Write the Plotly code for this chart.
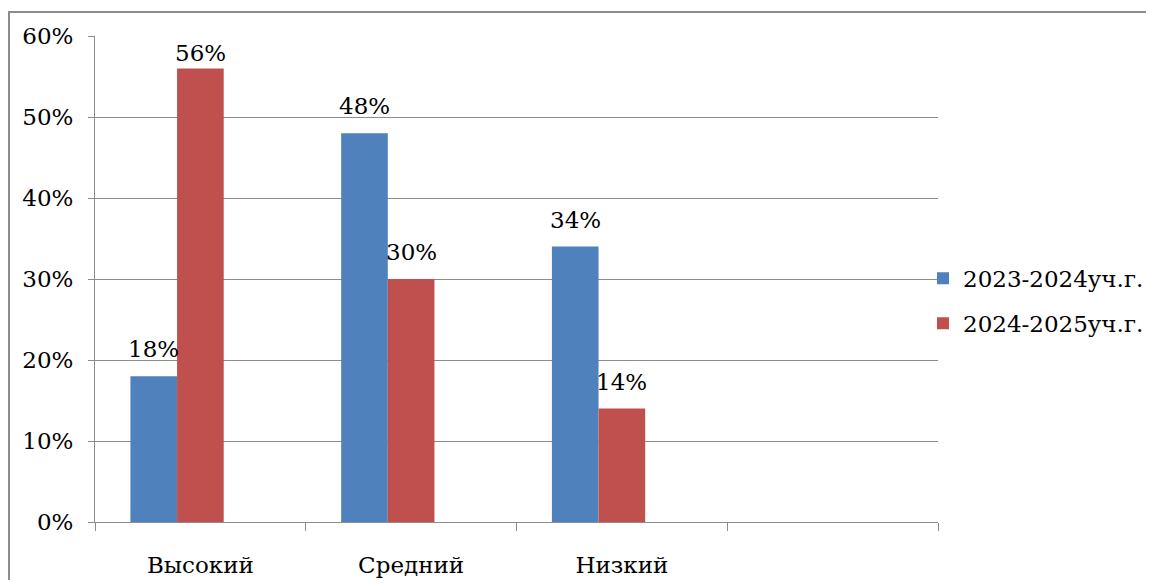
import plotly.graph_objects as go

# categories (the fourth slot is empty in the original chart)
categories = ['Высокий', 'Средний', 'Низкий', ' ']
series_names = ['2023-2024уч.г.', '2024-2025уч.г.']
values_2023 = [0.18, 0.48, 0.34, None]
values_2024 = [0.56, 0.30, 0.14, None]
# the source chart keeps a third, empty series slot next to the two real ones
values_empty = [0, 0, 0, None]
y_ticks = [0, 0.1, 0.2, 0.3, 0.4, 0.5, 0.6]

FONT = 'DejaVu Serif'
GRID = '#8c8c8c'
FS = 23
BARGAP = 0.336
Y_MAX = 0.6

# page body has an 8px margin, so the figure is sized/placed to compensate
W, H = 1154 - 16, 588 - 16
L, T = 87, 28
PW, PH = 843, 486

fig = go.Figure()
for name, vals, color in [(series_names[0], values_2023, '#4F81BD'),
                          (series_names[1], values_2024, '#C0504D')]:
    fig.add_trace(go.Bar(
        x=categories, y=vals, name=name, legendgroup=name,
        marker=dict(color=color, line=dict(width=0)),
    ))
fig.add_trace(go.Bar(
    x=categories, y=values_empty, name='', showlegend=False, hoverinfo='skip',
    marker=dict(color='rgba(0,0,0,0)', line=dict(width=0)),
))

# data labels: Excel-style, lifted above the bar top unless it would leave the plot
bar_w = (1 - BARGAP) / 3
annotations = []
for k, vals in enumerate([values_2023, values_2024]):
    for i, v in enumerate(vals):
        if v is None:
            continue
        room = (Y_MAX - v) * PH / Y_MAX
        annotations.append(dict(
            x=i + (k - 1) * bar_w, y=v, xref='x', yref='y',
            text=f'{round(v * 100)}%', showarrow=False, yanchor='bottom',
            yshift=12 if room > 45 else 0,
            font=dict(family=FONT, size=FS, color='black'),
        ))

fig.update_layout(
    width=W, height=H,
    margin=dict(l=L, r=W - L - PW, t=T, b=H - T - PH, autoexpand=False),
    paper_bgcolor='white', plot_bgcolor='white',
    barmode='group', bargap=BARGAP, bargroupgap=0,
    font=dict(family=FONT, size=FS, color='black'),
    legend=dict(x=(915 - L) / PW, y=0.455, xanchor='left', yanchor='middle',
                font=dict(family=FONT, size=FS), tracegroupgap=12,
                itemwidth=30, bgcolor='rgba(0,0,0,0)'),
    annotations=annotations,
    shapes=[dict(type='rect', xref='paper', yref='paper',
                 x0=(1 - L) / PW, x1=(1300 - L) / PW,
                 y0=(T + PH - 700) / PH, y1=(T + PH - 4) / PH,
                 line=dict(color='#8c8c8c', width=2), fillcolor='rgba(0,0,0,0)')],
)
fig.update_xaxes(
    type='category', categoryorder='array', categoryarray=categories,
    range=[-0.5, 3.5], tickson='boundaries', ticks='outside', ticklen=8,
    tickcolor=GRID, showline=True, linecolor=GRID, linewidth=1,
    showgrid=False, ticklabelstandoff=22,
)
fig.update_yaxes(
    range=[0, Y_MAX], tickvals=y_ticks, tickformat='.0%',
    ticks='outside', ticklen=6, tickcolor=GRID,
    showline=True, linecolor=GRID, linewidth=1,
    showgrid=True, gridcolor=GRID, gridwidth=1, zeroline=False,
    ticklabelstandoff=10,
)

fig.write_html('out.html')
